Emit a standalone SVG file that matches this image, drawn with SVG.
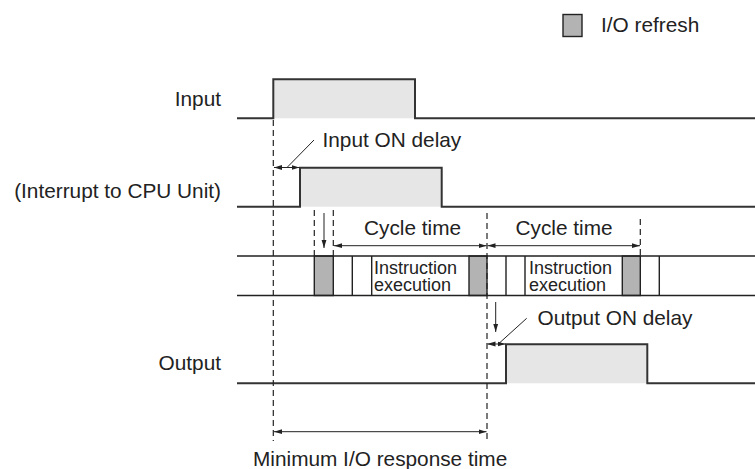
<svg xmlns="http://www.w3.org/2000/svg" width="755" height="469" viewBox="0 0 755 469">
<defs>
<marker id="ah" viewBox="0 0 8 6" refX="8" refY="3" markerWidth="8" markerHeight="6" markerUnits="userSpaceOnUse" orient="auto-start-reverse">
<path d="M0,0.6 L8,3 L0,5.4 Z" fill="#222"/>
</marker>
</defs>
<style>
text{font-family:"Liberation Sans",Arial,sans-serif;fill:#222;}
.lbl{font-size:20.8px;}
.small{font-size:18px;}
.sig{fill:none;stroke:#333;stroke-width:2;}
.pulse{fill:#e6e6e6;stroke:none;}
.row{fill:none;stroke:#222;stroke-width:1.6;}
.ref{fill:#b3b3b3;stroke:#222;stroke-width:1.4;}
.div{stroke:#222;stroke-width:1.4;}
.dash{stroke:#222;stroke-width:1.2;stroke-dasharray:6 4;fill:none;}
.arr{stroke:#222;stroke-width:1;fill:none;}
</style>
<g id="legend">
<rect x="563" y="14.5" width="19" height="22" class="ref"/>
<text x="601" y="32" class="lbl">I/O refresh</text>
</g>
<g id="input">
<text x="221" y="106" class="lbl" text-anchor="end">Input</text>
<rect x="273.3" y="79.3" width="141.7" height="39" class="pulse"/>
<path d="M237,118.3 H273.3 V79.3 H415 V118.3 H755" class="sig"/>
</g>
<g id="interrupt">
<text x="221" y="198" class="lbl" text-anchor="end">(Interrupt to CPU Unit)</text>
<rect x="300" y="167.7" width="141.7" height="39" class="pulse"/>
<path d="M237,206.7 H300 V167.7 H441.7 V206.7 H755" class="sig"/>
</g>
<g id="cycle">
<rect x="314.3" y="256" width="19" height="39.5" class="ref"/>
<rect x="469" y="256" width="18" height="39.5" class="ref"/>
<rect x="622.3" y="256" width="18" height="39.5" class="ref"/>
<path d="M237,256 H755 M237,295.5 H755" class="row"/>
<path d="M352.3,256 V295.5 M371.7,256 V295.5 M506,256 V295.5 M525,256 V295.5 M659.3,256 V295.5" class="div"/>
<text x="374" y="273.5" class="small">Instruction</text>
<text x="374" y="291" class="small">execution</text>
<text x="529" y="273.5" class="small">Instruction</text>
<text x="529" y="291" class="small">execution</text>
</g>
<g id="output">
<text x="221" y="370" class="lbl" text-anchor="end">Output</text>
<rect x="506" y="344.3" width="141.3" height="39" class="pulse"/>
<path d="M237,383.3 H506 V344.3 H647.3 V383.3 H755" class="sig"/>
</g>
<g id="connectors">
<path d="M273.3,120 V441" class="dash"/>
<path d="M314.3,210 V256 M333.3,210 V256" class="dash"/>
<path d="M487,213 V441" class="dash"/>
<path d="M640.3,219 V256" class="dash"/>
<path d="M274,167.5 H299.5" class="arr" marker-start="url(#ah)" marker-end="url(#ah)"/>
<path d="M287,167.5 L314,140" class="arr"/>
<text x="322.5" y="147" class="lbl">Input ON delay</text>
<path d="M324,213 V248" class="arr" marker-end="url(#ah)"/>
<path d="M334,245.7 H486.5" class="arr" marker-start="url(#ah)" marker-end="url(#ah)"/>
<path d="M487.5,245.7 H640" class="arr" marker-start="url(#ah)" marker-end="url(#ah)"/>
<text x="364" y="235" class="lbl">Cycle time</text>
<text x="515.5" y="235" class="lbl">Cycle time</text>
<path d="M495.7,302 V332" class="arr" marker-end="url(#ah)"/>
<path d="M487.5,344 H505.5" class="arr" marker-start="url(#ah)" marker-end="url(#ah)"/>
<path d="M498.3,344 L526.7,318.3" class="arr"/>
<text x="537.5" y="325" class="lbl">Output ON delay</text>
<path d="M274,431.7 H486.5" class="arr" marker-start="url(#ah)" marker-end="url(#ah)"/>
<text x="253" y="465.5" class="lbl">Minimum I/O response time</text>
</g>
</svg>
